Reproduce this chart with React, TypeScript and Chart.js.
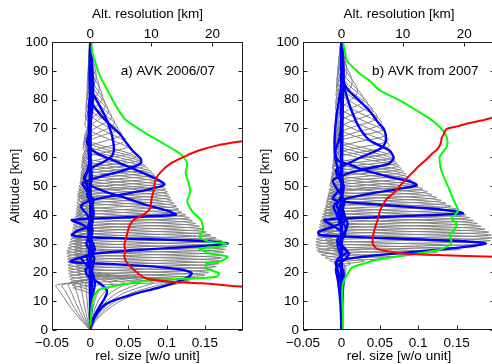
import React, { useEffect, useRef } from "react";
import { Chart, registerables } from "chart.js";
Chart.register(...registerables);

type P = [number, number]; // [altitude km, value]

// ---------- axes / text ----------
const yTicks = [0, 10, 20, 30, 40, 50, 60, 70, 80, 90, 100];
const relTicks = [-0.05, 0, 0.05, 0.1, 0.15];
const relTickLabels = ["\u22120.05", "0", "0.05", "0.1", "0.15"];
const resTicks = [0, 10, 20];
const resTickLabels = ["0", "10", "20"];
const xTitle = "rel. size [w/o unit]";
const topTitle = "Alt. resolution [km]";
const yTitle = "Altitude [km]";
const labelA = "a) AVK 2006/07";
const labelB = "b) AVK from 2007";

// ---------- kernel shape (relative to peak, widths in km) ----------
const shapeT = [-3.2, -2.3, -1.6, -1.2, -1.0, -0.6, -0.3, 0, 0.3, 0.6, 0.9, 1.2, 1.5, 1.9, 2.6, 3.2];
const shapeV = [0, -0.06, -0.17, -0.1, 0, 0.45, 0.85, 1, 0.85, 0.55, 0.25, 0, -0.12, -0.1, -0.02, 0];

// ---------- panel a: gray kernels ----------
const grayAltA = [17, 18, 19, 20, 21, 22, 23, 24, 25, 26, 27, 28, 29, 30, 31, 32, 33, 34, 35, 36, 37, 38, 39, 40, 41, 42, 43, 44, 45, 46, 47, 48, 49, 50, 51, 52, 53, 54, 55, 56, 57, 58, 59, 60, 62, 64, 66, 68, 70, 72, 74, 76, 78, 81, 84, 88, 92];
const grayPeakA = [0.13, 0.14, 0.15, 0.155, 0.16, 0.165, 0.168, 0.17, 0.172, 0.174, 0.175, 0.177, 0.179, 0.18, 0.172, 0.165, 0.158, 0.152, 0.148, 0.143, 0.138, 0.134, 0.13, 0.125, 0.12, 0.116, 0.113, 0.11, 0.107, 0.105, 0.103, 0.101, 0.099, 0.097, 0.094, 0.091, 0.088, 0.084, 0.08, 0.076, 0.072, 0.068, 0.064, 0.06, 0.056, 0.051, 0.046, 0.041, 0.036, 0.032, 0.028, 0.024, 0.02, 0.016, 0.012, 0.008, 0.004];
const grayLowWA = [1.5, 1.5, 1.5, 1.5, 1.5, 1.5, 1.5, 1.5, 1.5, 1.5, 1.5, 1.5, 1.5, 1.6, 1.6, 1.6, 1.6, 1.6, 1.6, 1.6, 1.6, 1.6, 1.6, 1.6, 1.8, 1.8, 1.8, 1.8, 1.8, 1.8, 1.8, 1.8, 1.8, 1.8, 2.5, 2.5, 2.5, 2.5, 2.5, 2.5, 2.5, 2.5, 2.5, 2.5, 3.5, 3.5, 4, 4, 4, 5, 5, 5, 5, 6, 6, 6, 6];
const grayUpWA = [1.8, 1.8, 1.8, 1.8, 1.8, 1.8, 1.8, 1.8, 1.8, 1.8, 1.8, 1.8, 1.8, 2, 2, 2, 2, 2, 2, 2.2, 2.2, 2.2, 2.2, 2.2, 2.6, 2.6, 2.6, 2.6, 2.6, 3, 3, 3, 3, 3, 3.5, 3.5, 3.5, 3.5, 3.5, 4.5, 4.5, 4.5, 4.5, 4.5, 6, 6.5, 7, 7, 7.5, 8, 8, 8, 8, 8, 8, 8, 8];

// panel a: low kernels fanning out of the origin
const lowAltA = [0, 3, 6, 9, 12, 14, 15.5, 16.5, 17.5, 18.5, 20, 22, 25];
const lowShapePosA = [0, 0.06, 0.16, 0.3, 0.52, 0.78, 1, 0.78, 0.3, 0, -0.06, 0.02, 0];
const lowShapeNegA = [0, 0.24, 0.45, 0.64, 0.8, 0.92, 1, 0.5, 0.05, -0.1, 0.02, 0, 0];
const lowPeakA = [-0.045, -0.037, -0.029, -0.021, -0.013, -0.006, 0.006, 0.016, 0.03, 0.046, 0.064, 0.083, 0.104, 0.125];
const lowPeakAltA = [15.5, 15.6, 15.8, 16, 16.2, 16.4, 15.4, 15.6, 15.8, 16, 16.2, 16.4, 16.6, 16.8];

// panel a: highlighted (blue) kernels
const blueA10: P[] = [[0, 0], [4, 0.004], [8, 0.012], [11, 0.019], [13.5, 0.022], [15.5, 0.016], [17.5, 0.004], [19, -0.004], [21, -0.006], [23, 0.002], [25, 0.005], [27, -0.002], [30, 0.003], [33, -0.002], [36, 0.001], [40, 0], [100, 0]];
const blueA20: P[] = [[0, 0], [4, 0.005], [8, 0.016], [10, 0.028], [11.5, 0.045], [13, 0.064], [14.5, 0.087], [16, 0.106], [18, 0.126], [19.7, 0.133], [21, 0.118], [22, 0.085], [22.8, 0.035], [23.3, -0.012], [23.8, -0.026], [24.8, -0.018], [26, 0], [28, 0.006], [31, 0.002], [35, -0.003], [40, 0.001], [45, 0], [100, 0]];
const blueA30: P[] = [[0, 0], [10, 0.002], [16, 0.006], [20, 0.003], [23, -0.006], [25, -0.012], [26.5, 0.006], [28, 0.075], [29.2, 0.15], [30, 0.18], [30.8, 0.155], [31.6, 0.07], [32.3, -0.008], [33, -0.024], [34.5, -0.016], [36, -0.002], [40, 0.004], [45, 0], [100, 0]];
const blueA40: P[] = [[0, 0], [20, 0.002], [25, 0.005], [30, -0.005], [34, 0.002], [36.5, -0.01], [38.2, -0.024], [39, 0.03], [40, 0.112], [41.5, 0.1], [43.5, 0.072], [46, 0.045], [48, 0.02], [50, 0.002], [52, -0.007], [55, -0.004], [60, 0], [100, 0]];
const blueA50: P[] = [[0, 0], [30, 0], [35, 0.003], [40, -0.004], [43, -0.012], [45, 0], [47, 0.04], [49, 0.08], [50.5, 0.097], [52, 0.09], [55, 0.065], [57.8, 0.04], [60, 0.02], [62, 0.005], [65, -0.004], [70, 0], [100, 0]];
const blueA60: P[] = [[0, 0], [40, 0], [45, 0.004], [49, -0.006], [51, -0.01], [53.2, 0.013], [55.5, 0.045], [57.8, 0.066], [59.5, 0.066], [62.4, 0.055], [65.5, 0.046], [68.3, 0.038], [71, 0.027], [74, 0.016], [76.5, 0.008], [78.7, 0.003], [82, 0], [100, 0]];
const blueA70: P[] = [[0, 0], [45, 0], [50, -0.004], [53, -0.008], [56, 0], [58, 0.015], [60, 0.027], [62.4, 0.031], [67, 0.029], [70.5, 0.025], [74, 0.02], [77, 0.014], [80, 0.008], [84.4, 0], [100, 0]];
const blueA80: P[] = [[0, 0], [55, 0], [62, -0.002], [70, 0], [78, 0.003], [85, 0.004], [90, 0.003], [95, 0.001], [100, 0]];
const blueA90: P[] = [[0, 0], [20, 0.002], [25, -0.004], [28, 0.003], [32, -0.003], [36, 0.002], [42, 0.004], [47, -0.004], [52, 0.002], [60, 0], [75, -0.002], [85, 0.001], [92, 0.002], [100, 0.001]];

// panel a: green (rel. size) and red (alt. resolution, km)
const greenA: P[] = [[0, 0], [5, 0.001], [8.1, 0.002], [11.6, 0.005], [13.9, 0.011], [15.6, 0.038], [17.3, 0.082], [17.9, 0.134], [18.5, 0.165], [19.7, 0.169], [21.4, 0.152], [23.1, 0.152], [23.7, 0.169], [25.4, 0.18], [26.6, 0.156], [28.3, 0.143], [28.9, 0.169], [30, 0.178], [30.6, 0.156], [32.4, 0.143], [34.7, 0.148], [38.2, 0.145], [41, 0.134], [44.5, 0.127], [48, 0.131], [50.9, 0.129], [54.3, 0.125], [57.8, 0.127], [60.7, 0.12], [62.4, 0.111], [65.9, 0.088], [69.4, 0.066], [72.8, 0.047], [75.2, 0.04], [78.6, 0.032], [82, 0.025], [86, 0.017], [90, 0.01], [93.6, 0.006], [96, 0.003], [100, 0.001]];
const redA: P[] = [[14.5, 30], [15, 25], [16.2, 18.4], [16.8, 12.9], [17.9, 9.1], [20.2, 7.5], [23.1, 6.1], [25.4, 5.6], [28, 5.7], [30, 5.6], [31.2, 5.8], [34.7, 6.2], [36, 6.4], [38.2, 7.1], [39.9, 8.6], [42.2, 9.8], [45, 10.0], [46.2, 10.1], [48.6, 10.4], [52.3, 10.7], [55, 11.6], [58, 13.3], [60.4, 15.6], [62.4, 17.9], [64.2, 21], [65.6, 25], [66.5, 27.5]];

// ---------- panel b: gray kernels ----------
const grayAltB = [23, 24, 25, 26, 27, 28, 29, 30, 31, 32, 33, 34, 35, 36, 37, 38, 39, 40, 41, 42, 43, 44, 45, 46, 47, 48, 49, 50, 51, 52, 53, 54, 55, 56, 57, 58, 59, 60, 62, 64, 66, 68, 70, 72, 74, 76, 78, 80, 83, 86, 90];
const grayPeakB = [0.012, 0.03, 0.055, 0.09, 0.125, 0.155, 0.175, 0.188, 0.194, 0.196, 0.195, 0.192, 0.187, 0.182, 0.177, 0.172, 0.167, 0.162, 0.157, 0.15, 0.143, 0.136, 0.13, 0.124, 0.118, 0.112, 0.106, 0.1, 0.095, 0.091, 0.087, 0.084, 0.081, 0.078, 0.075, 0.072, 0.07, 0.068, 0.065, 0.063, 0.061, 0.059, 0.056, 0.052, 0.047, 0.041, 0.035, 0.029, 0.021, 0.014, 0.007];
const grayLowWB = [1.2, 1.2, 1.2, 1.2, 1.2, 1.2, 1.2, 1.5, 1.5, 1.5, 1.5, 1.5, 1.5, 1.5, 1.5, 1.5, 1.5, 1.5, 1.8, 1.8, 1.8, 1.8, 1.8, 1.8, 1.8, 1.8, 1.8, 1.8, 2.5, 2.5, 2.5, 2.5, 2.5, 2.5, 2.5, 2.5, 2.5, 2.5, 3.5, 3.5, 4, 4, 4, 5, 5, 5, 5, 5, 6, 6, 6];
const grayUpWB = [1.5, 1.5, 1.5, 1.5, 1.5, 1.5, 1.5, 1.8, 1.8, 1.8, 1.8, 1.8, 1.8, 2, 2, 2, 2, 2, 2.4, 2.4, 2.4, 2.4, 2.4, 2.8, 2.8, 2.8, 2.8, 2.8, 3.5, 3.5, 3.5, 3.5, 3.5, 4.5, 4.5, 4.5, 4.5, 4.5, 6, 6.5, 7, 7, 7.5, 8, 8, 8, 8, 8, 8, 8, 8];

// panel b: low kernels (narrow wedge near zero)
const lowAltB = [0, 5, 10, 15, 19, 21.5, 23, 24.5, 26, 28, 31, 35, 40];
const lowShapeB = [0, 0.05, 0.15, 0.45, 0.8, 1, 0.5, -0.4, 0.3, 0.9, -0.3, 0.3, 0];
const lowPeakB = [-0.008, -0.006, -0.004, -0.002, 0.002, 0.004, 0.006];

// panel b: highlighted (blue) kernels
const blueB10: P[] = [[0, 0], [8, -0.001], [14, -0.003], [18, -0.005], [21, -0.007], [23, -0.002], [25, 0.006], [26.6, 0.01], [28, 0.004], [30, -0.003], [32, 0.002], [35, 0.006], [38, 0.001], [41, -0.004], [45, 0], [100, 0]];
const blueB20: P[] = [[0, 0], [8, 0.001], [14, 0.002], [18, 0.003], [21, 0.002], [23, -0.006], [25, -0.004], [27, 0.008], [29, 0.002], [31, -0.006], [34, 0.004], [37, 0.008], [40, 0.002], [43, -0.006], [47, 0], [100, 0]];
const blueB30: P[] = [[0, 0], [15, 0], [20, -0.004], [23.7, -0.007], [25.5, 0.03], [27, 0.09], [28.5, 0.15], [30, 0.188], [30.8, 0.16], [31.7, 0.08], [32.5, 0], [33, -0.028], [34, -0.03], [36, -0.01], [38, 0.005], [42, 0.002], [48, 0], [100, 0]];
const blueB40: P[] = [[0, 0], [25, 0], [30, -0.005], [33, 0.005], [36, -0.01], [38.2, -0.022], [39.3, 0.06], [40.5, 0.158], [41.5, 0.14], [42.5, 0.1], [43.5, 0.05], [44.5, 0.005], [45.5, -0.011], [47, -0.008], [50, 0.002], [55, 0], [100, 0]];
const blueB50: P[] = [[0, 0], [35, 0], [40, -0.006], [43, -0.01], [45, -0.002], [47, 0.03], [49, 0.075], [50.3, 0.098], [51.5, 0.09], [53, 0.065], [55.5, 0.03], [57.5, 0.01], [59, -0.005], [62, -0.008], [66, -0.003], [72, 0], [100, 0]];
const blueB60: P[] = [[0, 0], [40, 0], [45, 0.004], [49, -0.006], [52, -0.011], [54, 0.005], [55.5, 0.024], [57.8, 0.062], [60, 0.068], [62.4, 0.062], [64, 0.05], [66, 0.036], [70, 0.024], [75, 0.015], [82, 0.006], [88, 0.002], [93, 0], [100, 0]];
const blueB70: P[] = [[0, 0], [45, 0], [50, 0.003], [53, -0.004], [55.5, -0.007], [58, 0.01], [60.5, 0.03], [62.4, 0.047], [64, 0.055], [66, 0.058], [69.4, 0.056], [72, 0.048], [76.3, 0.036], [80, 0.022], [83, 0.01], [86.7, 0.002], [92, 0], [100, 0]];
const blueB80: P[] = [[0, 0], [50, 0], [55, -0.004], [60, -0.008], [65, -0.009], [70, -0.008], [75, -0.006], [80, -0.003], [85, 0], [90, 0.001], [100, 0.001]];
const blueB90: P[] = [[0, 0], [60, 0.001], [80, 0.002], [90, 0.003], [100, 0.001]];

// panel b: green and red
const greenB: P[] = [[0, 0.002], [5, 0.002], [11.6, 0.001], [16.2, 0.002], [20.8, 0.011], [22, 0.016], [23.1, 0.03], [24.3, 0.045], [26, 0.085], [27.7, 0.125], [28.3, 0.132], [30, 0.143], [31.2, 0.143], [33, 0.141], [34.7, 0.147], [37, 0.15], [38.7, 0.143], [40, 0.148], [41.6, 0.152], [45.1, 0.146], [49.7, 0.139], [55.5, 0.13], [60.1, 0.128], [63.6, 0.137], [65.9, 0.138], [68.2, 0.135], [70.5, 0.128], [72.8, 0.118], [75.2, 0.104], [79.7, 0.076], [83.2, 0.05], [86.7, 0.036], [89, 0.024], [91.3, 0.015], [93.6, 0.007], [96, 0.005], [100, 0.002]];
const redB: P[] = [[25, 30], [25.4, 25], [26, 15.5], [26.6, 10], [27.5, 7], [28.3, 5.7], [30, 5.1], [33, 5.2], [35, 5.4], [37, 5.7], [39, 6.0], [41.6, 6.3], [43.5, 6.8], [45.7, 7.4], [47, 8.2], [48.6, 9.0], [50, 9.5], [51.4, 10.1], [53, 10.8], [54.9, 11.7], [56.5, 12.4], [58.4, 13.4], [60, 14.2], [61.3, 14.8], [62.5, 15.5], [63.6, 15.9], [65, 16.2], [66.5, 16.3], [68.2, 16.7], [69.2, 16.9], [69.9, 17.2], [70.8, 19], [71.7, 20.5], [72.8, 23], [74, 25], [75, 27.5]];

const blueAList = [blueA10, blueA20, blueA30, blueA40, blueA50, blueA60, blueA70, blueA80, blueA90];
const blueBList = [blueB10, blueB20, blueB30, blueB40, blueB50, blueB60, blueB70, blueB80, blueB90];

// ---------- styling ----------
const FONT_FAMILY = '"Liberation Sans", Arial, Helvetica, sans-serif';
const FONT = { family: FONT_FAMILY, size: 13.5 };
const GRAY = "rgb(128,128,128)";
const BLUE = "#0000ff";
const GREEN = "#00ff00";
const RED = "#ff0000";

function toXY(arr: P[]) {
  return arr.map(([alt, v]) => ({ x: v, y: alt }));
}

function templateKernel(h: number, p: number, wl: number, wu: number) {
  const pts = [{ x: 0, y: 0 }];
  for (let i = 0; i < shapeT.length; i++) {
    const t = shapeT[i];
    const alt = h + t * (t < 0 ? wl : wu);
    if (alt <= 0 || alt >= 100) continue;
    pts.push({ x: p * shapeV[i], y: alt });
  }
  pts.push({ x: 0, y: 100 });
  return pts;
}

function lineDs(data: any[], color: string, width: number, order: number, tension: number, xAxisID = "x") {
  return {
    data,
    borderColor: color,
    backgroundColor: color,
    borderWidth: width,
    pointRadius: 0,
    fill: false,
    tension,
    order,
    xAxisID,
    yAxisID: "y",
  };
}

function buildDatasets(panel: "a" | "b") {
  const ds: any[] = [];
  if (panel === "a") {
    lowPeakA.forEach((p, i) => {
      const shape = p < 0 ? lowShapeNegA : lowShapePosA;
      const s = lowPeakAltA[i] / 15.5;
      const pts = lowAltA.map((a, j) => ({ x: p * shape[j], y: a * s }));
      pts.push({ x: 0, y: 100 });
      ds.push(lineDs(pts, GRAY, 1, 4, 0.3));
    });
    grayAltA.forEach((h, i) => ds.push(lineDs(templateKernel(h, grayPeakA[i], grayLowWA[i], grayUpWA[i]), GRAY, 1, 4, 0.3)));
    blueAList.forEach((b) => ds.push(lineDs(toXY(b), BLUE, 2.4, 3, 0.25)));
    ds.push(lineDs(toXY(greenA), GREEN, 2, 2, 0.2));
    ds.push(lineDs(toXY(redA), RED, 2, 1, 0.2, "x2"));
  } else {
    lowPeakB.forEach((p) => {
      const pts = lowAltB.map((a, j) => ({ x: p * lowShapeB[j], y: a }));
      pts.push({ x: 0, y: 100 });
      ds.push(lineDs(pts, GRAY, 1, 4, 0.3));
    });
    grayAltB.forEach((h, i) => ds.push(lineDs(templateKernel(h, grayPeakB[i], grayLowWB[i], grayUpWB[i]), GRAY, 1, 4, 0.3)));
    blueBList.forEach((b) => ds.push(lineDs(toXY(b), BLUE, 2.4, 3, 0.25)));
    ds.push(lineDs(toXY(greenB), GREEN, 2, 2, 0.2));
    ds.push(lineDs(toXY(redB), RED, 2, 1, 0.2, "x2"));
  }
  return ds;
}

const framePlugin = {
  id: "frame",
  afterDraw(chart: any, _args: any, opts: any) {
    const { ctx, chartArea: a, scales } = chart;
    ctx.save();
    ctx.strokeStyle = "#1e1e1e";
    ctx.lineWidth = 1;
    const L = Math.round(a.left) + 0.5;
    const R = Math.round(a.right) - 0.5;
    const T = Math.round(a.top) + 0.5;
    const B = Math.round(a.bottom) - 0.5;
    ctx.strokeRect(L, T, R - L, B - T);
    ctx.beginPath();
    const tk = 4;
    yTicks.forEach((v) => {
      const py = Math.round(scales.y.getPixelForValue(v)) + 0.5;
      ctx.moveTo(L, py);
      ctx.lineTo(L + tk, py);
      ctx.moveTo(R, py);
      ctx.lineTo(R - tk, py);
    });
    relTicks.forEach((v) => {
      const px = Math.round(scales.x.getPixelForValue(v)) + 0.5;
      ctx.moveTo(px, B);
      ctx.lineTo(px, B - tk);
    });
    resTicks.forEach((v) => {
      const px = Math.round(scales.x2.getPixelForValue(v)) + 0.5;
      ctx.moveTo(px, T);
      ctx.lineTo(px, T + tk);
    });
    ctx.stroke();
    ctx.fillStyle = "#000";
    ctx.font = `${FONT.size}px ${FONT_FAMILY}`;
    ctx.textAlign = "left";
    ctx.textBaseline = "middle";
    ctx.fillText(opts.text, scales.x.getPixelForValue(opts.x), scales.y.getPixelForValue(opts.y));
    ctx.restore();
  },
};

function makeConfig(panel: "a" | "b", yWidth: number, padRight: number): any {
  return {
    type: "line",
    data: { datasets: buildDatasets(panel) },
    options: {
      animation: false,
      responsive: false,
      maintainAspectRatio: false,
      events: [],
      layout: { padding: { left: 0, right: padRight, top: 0, bottom: 0 } },
      plugins: {
        legend: { display: false },
        tooltip: { enabled: false },
        title: { display: false },
        frame: { text: panel === "a" ? labelA : labelB, x: 0.04, y: 90 },
      },
      scales: {
        x: {
          type: "linear",
          position: "bottom",
          min: -0.05,
          max: 0.2,
          afterBuildTicks: (s: any) => {
            s.ticks = relTicks.map((v) => ({ value: v }));
          },
          afterFit: (s: any) => {
            s.height = 34;
          },
          grid: { display: false, drawTicks: false },
          border: { display: false },
          ticks: {
            autoSkip: false,
            maxRotation: 0,
            minRotation: 0,
            padding: 5,
            color: "#000",
            font: FONT,
            callback: (_v: any, i: number) => relTickLabels[i],
          },
          title: { display: true, text: xTitle, color: "#000", font: FONT, padding: { top: 0, bottom: 0 } },
        },
        x2: {
          type: "linear",
          position: "top",
          min: -6.25,
          max: 25,
          afterBuildTicks: (s: any) => {
            s.ticks = resTicks.map((v) => ({ value: v }));
          },
          afterFit: (s: any) => {
            s.height = 42;
          },
          grid: { display: false, drawTicks: false },
          border: { display: false },
          ticks: {
            autoSkip: false,
            maxRotation: 0,
            minRotation: 0,
            padding: 0,
            color: "#000",
            font: FONT,
            callback: (_v: any, i: number) => resTickLabels[i],
          },
          title: { display: true, text: topTitle, color: "#000", font: FONT, padding: { top: 6, bottom: 0 } },
        },
        y: {
          type: "linear",
          position: "left",
          min: 0,
          max: 100,
          afterBuildTicks: (s: any) => {
            s.ticks = yTicks.map((v) => ({ value: v }));
          },
          afterFit: (s: any) => {
            s.width = yWidth;
          },
          grid: { display: false, drawTicks: false },
          border: { display: false },
          ticks: { autoSkip: false, padding: 4, color: "#000", font: FONT },
          title: { display: true, text: yTitle, color: "#000", font: FONT, padding: { top: 7, bottom: 0 } },
        },
      },
    },
    plugins: [framePlugin],
  };
}

function Panel({ panel, left, width, yWidth, padRight }: { panel: "a" | "b"; left: number; width: number; yWidth: number; padRight: number }) {
  const ref = useRef<HTMLCanvasElement | null>(null);
  useEffect(() => {
    if (!ref.current) return;
    const chart = new Chart(ref.current, makeConfig(panel, yWidth, padRight));
    return () => chart.destroy();
  }, [panel, yWidth, padRight]);
  return (
    <canvas
      ref={ref}
      width={width}
      height={364}
      style={{ position: "absolute", left, top: 0, width, height: 364, display: "block" }}
    />
  );
}

export default function App() {
  return (
    <div
      style={{
        position: "fixed",
        left: 0,
        top: 0,
        width: 492,
        height: 364,
        overflow: "hidden",
        background: "#fff",
      }}
    >
      <Panel panel="a" left={0} width={246} yWidth={52} padRight={3} />
      <Panel panel="b" left={250} width={250} yWidth={53} padRight={5} />
    </div>
  );
}
